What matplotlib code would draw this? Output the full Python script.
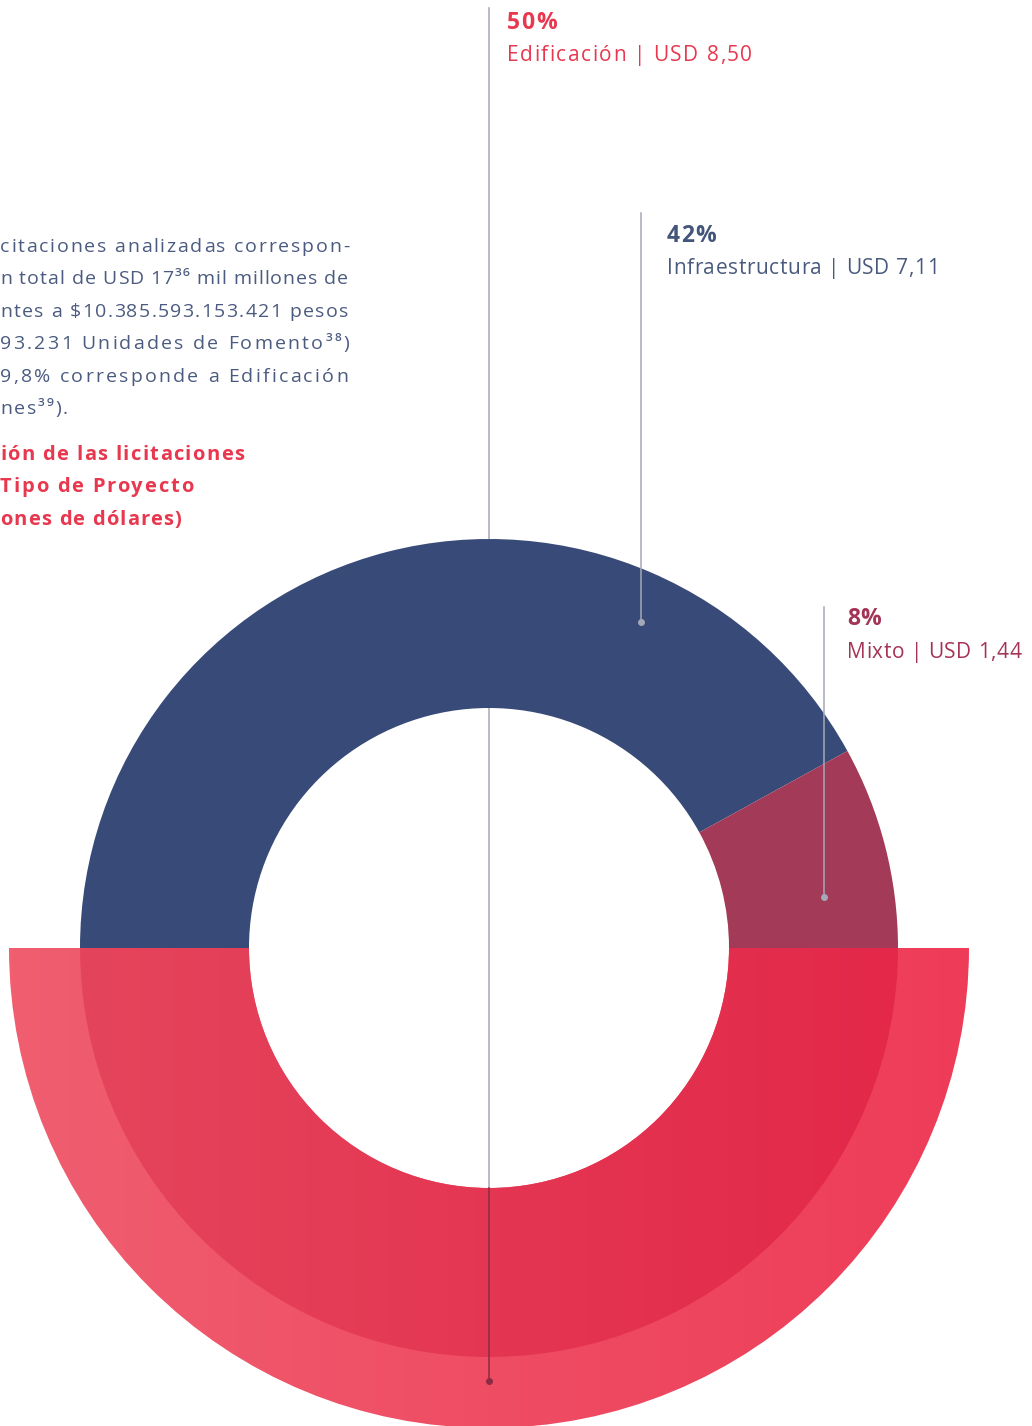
import matplotlib.pyplot as plt
import numpy as np
from matplotlib.patches import Wedge
from matplotlib.colors import LinearSegmentedColormap

# Datos
categorias = ['Infraestructura', 'Mixto', 'Edificación']
porcentajes = [42, 8, 50]
usd = ['7,11', '1,44', '8,50']
colores = ['#384A77', '#A33A57', '#E8384F']

parrafo = ['citaciones analizadas correspon-',
           'n total de USD 17³⁶ mil millones de',
           'ntes a $10.385.593.153.421 pesos',
           '93.231 Unidades de Fomento³⁸)',
           '9,8% corresponde a Edificación',
           'nes³⁹).']
titulo = ['ión de las licitaciones', 'Tipo de Proyecto', 'ones de dólares)']

FONT = ['Open Sans', 'DejaVu Sans']
plt.rcParams['font.family'] = FONT

W, H = 1032, 1426
cx, cy = 489, 948  # centro del anillo (px)
fig = plt.figure(figsize=(W / 100, H / 100), dpi=100)
ax = fig.add_axes([0, 0, 1, 1])
ax.set_xlim(-cx, W - cx)
ax.set_ylim(cy - H, cy)
ren = fig.canvas.get_renderer()

r_in, r_out, r_big = 240, 409, 480


def ancho(s, **kw):
    t = ax.text(0, 0, s, **kw)
    w = t.get_window_extent(ren).width
    t.remove()
    return w


def texto(xpx, ypx, s, w_obj, **kw):
    # texto con espaciado entre letras ajustado al ancho objetivo (px de imagen)
    n = len(s)
    extra = max((w_obj - ancho(s, **kw)) / max(n - 1, 1), 0)
    for i, ch in enumerate(s):
        if ch == ' ':
            continue
        xr = ancho(s[:i + 1], **kw) + i * extra
        ax.text(xpx - cx + xr, cy - ypx, ch, ha='right', va='baseline', zorder=5, **kw)


# angulos: empieza en 180 grados y gira en sentido horario
ang = 180.0
tramos = {}
for cat, p in zip(categorias, porcentajes):
    span = p / 100 * 360
    tramos[cat] = (ang - span, ang)
    ang -= span


def gradiente(r1, r2, t1, t2, c_izq, c_der, z):
    w = Wedge((0, 0), r2, t1, t2, width=r2 - r1, facecolor='none', edgecolor='none')
    ax.add_patch(w)
    cmap = LinearSegmentedColormap.from_list('g', [c_izq, c_der])
    g = np.linspace(0, 1, 256).reshape(1, -1)
    im = ax.imshow(g, cmap=cmap, extent=(-r2, r2, -r2, r2), aspect='auto', zorder=z)
    im.set_clip_path(w)


# linea de Edificacion (debajo)
ax.plot([0, 0], [cy - 8, -r_in], color='#A4A8B8', lw=1.1, zorder=1)

for cat, col in zip(categorias, colores):
    t1, t2 = tramos[cat]
    if cat == 'Edificación':
        gradiente(r_in, r_big, t1, t2, '#F05E70', '#EE3C58', 2)
        gradiente(r_in, r_out, t1, t2, '#E5455C', '#E3284A', 3)
    else:
        ax.add_patch(Wedge((0, 0), r_out, t1, t2, width=r_out - r_in,
                           facecolor=col, edgecolor='none', zorder=2))

# lineas guia y puntos (angulo, radio del punto, y superior)
guias = {'Edificación': (270, 433, cy - 8),
         'Infraestructura': (65.0, 360, cy - 213),
         'Mixto': (8.66, 339, cy - 607)}
for cat, (a, r, ytop) in guias.items():
    x = r * np.cos(np.radians(a))
    y = r * np.sin(np.radians(a))
    if cat == 'Edificación':
        ax.plot([x, x], [-r_in, y], color='#8C2B45', lw=1.1, zorder=4)
        ax.plot(x, y, 'o', ms=4, color='#8C2B45', zorder=4)
    else:
        ax.plot([x, x], [y, ytop], color='#A4A8B8', lw=1.1, zorder=4)
        ax.plot(x, y, 'o', ms=4, color='#A4A8B8', zorder=4)

# etiquetas: x, base1, base2, ancho1, ancho2, color1, color2
etiquetas = {'Edificación': (507, 29, 61, 50, 245, '#E8384F', '#E8384F'),
             'Infraestructura': (667, 242, 274, 49, 272, '#44557A', '#4A5A7E'),
             'Mixto': (847, 625, 658, 33, 174, '#A33455', '#A33455')}
for cat, p, u in zip(categorias, porcentajes, usd):
    x, b1, b2, w1, w2, c1, c2 = etiquetas[cat]
    texto(x, b1, f'{p}%', w1, fontsize=16.5, fontweight='bold', color=c1)
    texto(x, b2, f'{cat} | USD {u}', w2, fontsize=15, color=c2)

# parrafo (recortado a la izquierda, justificado)
anchos_parrafo = [349, 348, 348, 349, 348, 68]
for i, (linea, w) in enumerate(zip(parrafo, anchos_parrafo)):
    texto(0, 252 + i * 32.4, linea, w, fontsize=14, color='#4B5B80')

anchos_titulo = [244, 193, 181]
for i, (linea, w) in enumerate(zip(titulo, anchos_titulo)):
    texto(0, 460 + i * 32.3, linea, w, fontsize=14.5, fontweight='bold', color='#E8384F')

ax.set_xlim(-cx, W - cx)
ax.set_ylim(cy - H, cy)
ax.axis('off')
fig.savefig('out.png', dpi=100)
